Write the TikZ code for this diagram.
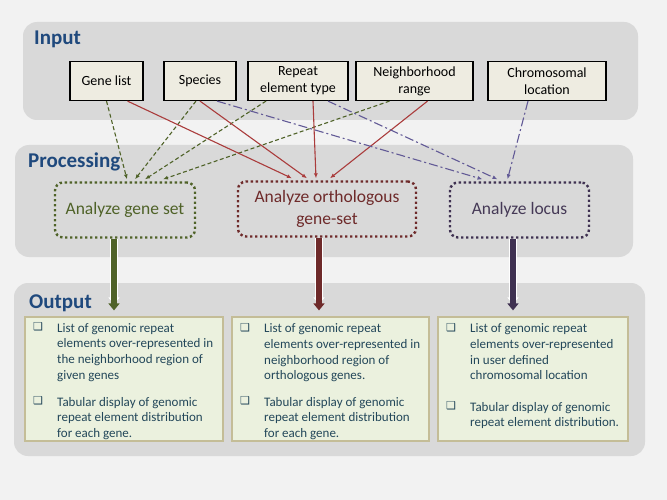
\documentclass[tikz,border=0pt]{standalone}
\usepackage{fontspec}
\setmainfont{Carlito}
\newfontfamily\symfont{DejaVu Sans}
\usetikzlibrary{arrows.meta}

\definecolor{pagegray}{HTML}{F2F2F2}
\definecolor{panelgray}{HTML}{D9D9D9}
\definecolor{titleblue}{HTML}{1F497D}
\definecolor{inbeige}{HTML}{EEECE1}
\definecolor{setgreen}{HTML}{4F6228}
\definecolor{orthored}{HTML}{6E2A2A}
\definecolor{linered}{HTML}{AA3C3C}
\definecolor{locuspurple}{HTML}{3F3151}
\definecolor{linepurple}{HTML}{625A96}
\definecolor{outfill}{HTML}{EBF1DE}
\definecolor{outborder}{HTML}{C4BD97}
\definecolor{outtext}{HTML}{23475A}

\begin{document}
\begin{tikzpicture}[x=1pt,y=-1pt,
    panel/.style={fill=panelgray,rounded corners=14pt},
    paneltitle/.style={anchor=west,inner sep=0pt,text=titleblue,font=\fontsize{21}{24}\selectfont\bfseries},
    inbox/.style={draw,line width=1.2pt,fill=inbeige,minimum height=39pt,inner sep=1pt,align=center,font=\fontsize{14}{17}\selectfont},
    procbox/.style={draw,rounded corners=8pt,line width=2.4pt,dash pattern=on 2.4pt off 2.6pt,minimum height=55pt,align=center,font=\fontsize{17.5}{21.5}\selectfont},
    outbox/.style={draw=outborder,fill=outfill,line width=1.2pt,minimum height=124pt},
    item/.style={anchor=north west,align=left,inner sep=0pt,text=outtext,font=\fontsize{13}{15.7}\selectfont},
    qbullet/.style={inner sep=0pt,text=outtext,font=\symfont\fontsize{11}{11}\selectfont},
    feedset/.style={-{Latex[length=5pt,width=4pt]},line width=1.1pt,setgreen,dash pattern=on 4pt off 2.5pt},
    feedortho/.style={-{Latex[length=5pt,width=4pt]},line width=1.1pt,linered},
    feedlocus/.style={-{Latex[length=5pt,width=4pt]},line width=1.1pt,linepurple,dash pattern=on 9pt off 3pt on 2pt off 3pt},
    result/.style={-{Triangle[length=7pt,width=11pt]},line width=6pt,shorten >=6pt,preaction={draw=white!85,line width=7.5pt,shorten >=12pt}}]

    %page
    \fill[pagegray] (0,0) rectangle (667,500);
    \useasboundingbox (0,0) rectangle (667,500);

    %panels
    \fill[panel] (23,22) rectangle (638,120);
    \fill[panel] (15,145) rectangle (633,257);
    \fill[panel] (14,283) rectangle (645,456);
    \node[paneltitle] (input title) at (34,39) {Input};
    \node[paneltitle] (processing title) at (28,162) {Processing};
    \node[paneltitle] (output title) at (29,303) {Output};

    %inputs
    \node[inbox,minimum width=73pt] (genelist) at (106.5,81) {Gene list};
    \node[inbox,minimum width=72pt] (species) at (200,81) {Species};
    \node[inbox,minimum width=100pt] (repeat) at (298,81) {Repeat\\element type};
    \node[inbox,minimum width=117pt] (range) at (414.5,81) {Neighborhood\\range};
    \node[inbox,minimum width=118pt] (chrom) at (547,81) {Chromosomal\\location};

    %processing
    \node[procbox,setgreen,text=setgreen,minimum width=140pt] (geneset) at (125,210) {Analyze gene set};
    \node[procbox,orthored,text=orthored,minimum width=178pt] (ortho) at (327,209) {Analyze orthologous\\gene-set};
    \node[procbox,locuspurple,text=locuspurple!90!gray,minimum width=139pt] (locus) at (519.5,210) {Analyze locus};

    %feeds
    \draw[feedset] ([xshift=0pt]genelist.south) -- ([xshift=2pt,yshift=2pt]geneset.north);
    \draw[feedset] ([xshift=-4pt]species.south) -- ([xshift=10pt,yshift=2pt]geneset.north);
    \draw[feedset] ([xshift=-32pt]repeat.south) -- ([xshift=20pt,yshift=2pt]geneset.north);
    \draw[feedset] ([xshift=-25pt]range.south) -- ([xshift=38pt,yshift=2pt]geneset.north);

    \draw[feedortho] ([xshift=21pt]genelist.south) -- ([xshift=-35pt,yshift=2pt]ortho.north);
    \draw[feedortho] ([xshift=0pt]species.south) -- ([xshift=-20pt,yshift=2pt]ortho.north);
    \draw[feedortho] ([xshift=15pt]repeat.south) -- ([xshift=-11pt,yshift=2pt]ortho.north);
    \draw[feedortho] ([xshift=13pt]range.south) -- ([xshift=3pt,yshift=2pt]ortho.north);

    \draw[feedlocus] ([xshift=17pt]species.south) -- ([xshift=-37pt,yshift=2pt]locus.north);
    \draw[feedlocus] ([xshift=30pt]repeat.south) -- ([xshift=-22pt,yshift=2pt]locus.north);
    \draw[feedlocus] ([xshift=-19pt]chrom.south) -- ([xshift=-12pt,yshift=2pt]locus.north);

    %outputs
    \node[outbox,minimum width=198pt] (outgeneset) at (124,379) {};
    \node[outbox,minimum width=197pt] (outortho) at (330.5,379) {};
    \node[outbox,minimum width=190pt] (outlocus) at (533,379) {};

    \draw[result,setgreen] ([xshift=-11pt]geneset.south) -- ([xshift=-11pt]geneset.south |- outgeneset.north);
    \draw[result,orthored] ([xshift=-8pt]ortho.south) -- ([xshift=-8pt]ortho.south |- outortho.north);
    \draw[result,locuspurple] ([xshift=-6.5pt]locus.south) -- ([xshift=-6.5pt]locus.south |- outlocus.north);

    \node[qbullet] (b1a) at (38,327) {❑};
    \node[item] (t1a) at (57,323) {List of genomic repeat\\elements over-represented in\\the neighborhood region of\\given genes};
    \node[qbullet] (b1b) at (38,401) {❑};
    \node[item] (t1b) at (57,397) {Tabular display of genomic\\repeat element distribution\\for each gene.};

    \node[qbullet] (b2a) at (245,328) {❑};
    \node[item] (t2a) at (264,323.5) {List of genomic repeat\\elements over-represented in\\neighborhood region of\\orthologous genes.};
    \node[qbullet] (b2b) at (245,401) {❑};
    \node[item] (t2b) at (264,397) {Tabular display of genomic\\repeat element distribution\\for each gene.};

    \node[qbullet] (b3a) at (451,328) {❑};
    \node[item] (t3a) at (470,323.5) {List of genomic repeat\\elements over-represented\\in user defined\\chromosomal location};
    \node[qbullet] (b3b) at (451,406) {❑};
    \node[item] (t3b) at (470,402) {Tabular display of genomic\\repeat element distribution.};

\end{tikzpicture}
\end{document}
